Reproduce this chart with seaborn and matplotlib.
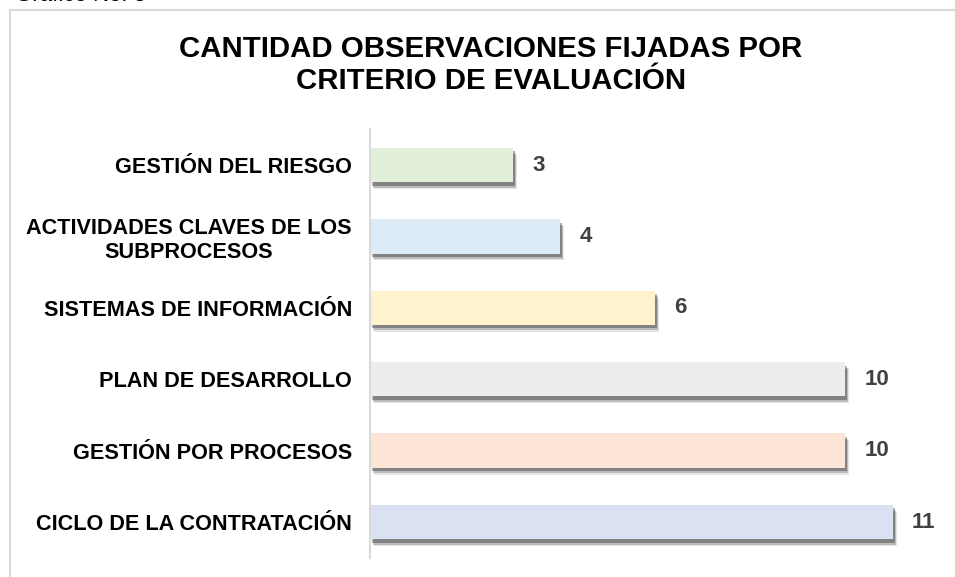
import matplotlib
matplotlib.use("Agg")
import matplotlib.pyplot as plt
import matplotlib.patheffects as pe
from matplotlib.patches import Rectangle
import seaborn as sns
import pandas as pd

# datos del gráfico (de arriba hacia abajo)
criterios = [
    "GESTIÓN DEL RIESGO",
    "ACTIVIDADES CLAVES DE LOS\nSUBPROCESOS",
    "SISTEMAS DE INFORMACIÓN",
    "PLAN DE DESARROLLO",
    "GESTIÓN POR PROCESOS",
    "CICLO DE LA CONTRATACIÓN",
]
cantidad = [3, 4, 6, 10, 10, 11]
colores = ["#E2EFDA", "#DDEBF7", "#FFF2CC", "#EDEDED", "#FCE4D6", "#D9E1F2"]

df = pd.DataFrame({"criterio": criterios, "cantidad": cantidad})

sns.set_theme(style="white")
plt.rcParams["font.family"] = ["Liberation Sans", "DejaVu Sans"]

fig = plt.figure(figsize=(9.55, 5.77), dpi=100)
ax = fig.add_axes([370 / 955, 1 - 557.7 / 577, 570 / 955, 428.4 / 577])

sns.barplot(data=df, x="cantidad", y="criterio", hue="criterio", palette=colores,
            order=criterios, orient="h", width=0.48, legend=False, ax=ax,
            saturation=1)

# sombra de las barras
sombra = [
    pe.SimplePatchShadow(offset=(3, -5), shadow_rgbFace="black", alpha=0.1),
    pe.SimplePatchShadow(offset=(2.5, -4), shadow_rgbFace="black", alpha=0.18),
    pe.SimplePatchShadow(offset=(1.5, -2.5), shadow_rgbFace="black", alpha=0.3),
    pe.Normal(),
]
for barra in ax.patches:
    barra.set_path_effects(sombra)
    barra.set_edgecolor("none")

for cont in ax.containers:
    ax.bar_label(cont, padding=14, fontsize=16, fontweight="bold", color="#404040")

ax.set_xlim(0, 12)
ax.set_ylim(5.5, -0.5)
ax.set_xlabel("")
ax.set_ylabel("")
ax.set_xticks([])
ax.tick_params(axis="y", length=0, pad=13)
for lbl in ax.get_yticklabels():
    lbl.set_fontsize(15.6)
    lbl.set_fontweight("bold")
    lbl.set_color("black")
    lbl.set_multialignment("center")
for lado in ["top", "right", "bottom"]:
    ax.spines[lado].set_visible(False)
ax.spines["left"].set_color("#D9D9D9")
ax.spines["left"].set_linewidth(1.5)

# titulo
fig.text(0.514, 1 - 65 / 577, "CANTIDAD OBSERVACIONES FIJADAS POR\nCRITERIO DE EVALUACIÓN",
         ha="center", va="center", fontsize=21.2, fontweight="bold", color="black",
         linespacing=1.22)

# marco del gráfico
fig.patches.append(Rectangle((10 / 955, -0.1), 1.0, 1 - 10 / 577 + 0.1,
                             transform=fig.transFigure, fill=False,
                             edgecolor="#D9D9D9", linewidth=1.5))

# texto cortado en la parte superior
fig.text(15 / 955, 1 - 6 / 577, "Gráfico No. 3", ha="left", va="bottom",
         fontsize=16, color="black")

fig.savefig("out.png", dpi=100)
